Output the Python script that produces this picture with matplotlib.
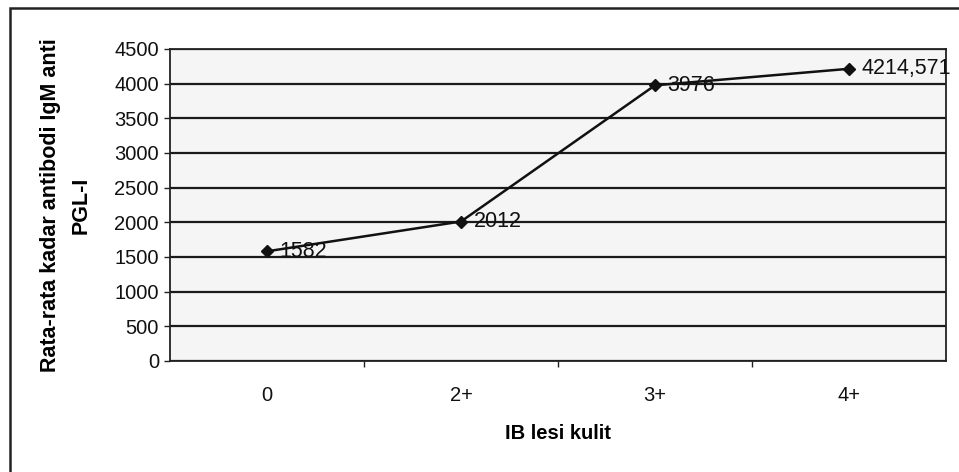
import matplotlib
matplotlib.use('Agg')
from matplotlib import pyplot as plt
from matplotlib.patches import Rectangle

# IgM anti PGL-I mean antibody level per skin lesion BI group
categories = ['0', '2+', '3+', '4+']
mean_igm = [1582, 2012, 3976, 4214.571]
point_labels = ['1582', '2012', '3976', '4214,571']
yticks = [0, 500, 1000, 1500, 2000, 2500, 3000, 3500, 4000, 4500]

plt.rcParams['font.family'] = ['Liberation Sans', 'DejaVu Sans']

fig = plt.figure(figsize=(9.59, 4.72), dpi=100)
fig.patch.set_facecolor('white')

# outer chart frame (open on the right and bottom)
fig.patches.append(Rectangle((10 / 959, -0.05), 1.2, (472 - 8) / 472 + 0.05,
                             transform=fig.transFigure, fill=False,
                             edgecolor='#222222', linewidth=1.8))

ax = fig.add_axes([170 / 959, (472 - 361) / 472, (946 - 170) / 959, (361 - 49) / 472])
ax.set_facecolor('#f5f5f5')

xpos = [i + 0.5 for i in range(len(categories))]
ax.plot(xpos, mean_igm, color='#111111', linewidth=1.8, marker='D',
        markersize=6.5, markerfacecolor='#111111', markeredgecolor='#111111', zorder=3)

for x, y, txt in zip(xpos, mean_igm, point_labels):
    ax.annotate(txt, (x, y), xytext=(9, 0), textcoords='offset points',
                ha='left', va='center', fontsize=15.5, color='#111111', zorder=4)

ax.set_xlim(0, len(categories))
ax.set_ylim(0, 4500)
ax.set_yticks(yticks)
ax.set_yticklabels([str(v) for v in yticks], fontsize=14.5, color='#111111')
ax.set_xticks([1, 2, 3])
ax.set_xticks(xpos, minor=True)
ax.set_xticklabels([])
ax.set_xticklabels(categories, minor=True, fontsize=14.5, color='#111111')
ax.tick_params(axis='x', which='major', length=4, width=1, color='#222222')
ax.tick_params(axis='x', which='minor', length=0, pad=18)
ax.tick_params(axis='y', length=4, width=1, color='#222222', pad=4)

ax.yaxis.grid(True, color='#1a1a1a', linewidth=1.6)
ax.set_axisbelow(True)
for s in ax.spines.values():
    s.set_color('#222222')
    s.set_linewidth(1.3)

ax.set_xlabel('IB lesi kulit', fontsize=14.5, fontweight='bold', labelpad=14)
ax.set_ylabel('Rata-rata kadar antibodi IgM anti\nPGL-I', fontsize=15.5,
              fontweight='bold', labelpad=16, linespacing=1.6)

plt.savefig('out.png', dpi=100)
plt.close()
